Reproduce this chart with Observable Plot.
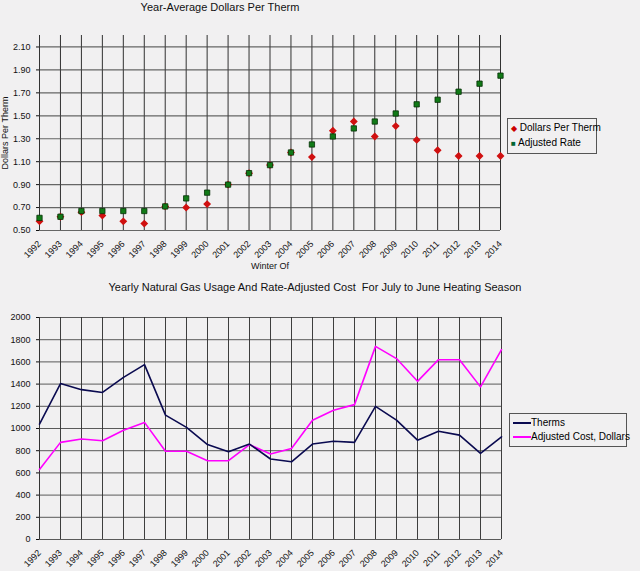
<!DOCTYPE html>
<html><head><meta charset="utf-8">
<script src="https://cdn.jsdelivr.net/npm/d3@7"></script>
<script src="https://cdn.jsdelivr.net/npm/@observablehq/plot@0.6"></script>
<style>
body{margin:0;background:#f1f0f1;font-family:"Liberation Sans",Arial,sans-serif;}
#wrap{position:relative;width:640px;height:571px;overflow:hidden;}
.t{position:absolute;font-size:11px;color:#111;white-space:nowrap;}
.leg{position:absolute;border:1px solid #555;background:#f1f0f1;font-size:10px;padding:2px 3px;line-height:14px;white-space:nowrap;}
.ab{position:absolute;}
</style></head><body>
<div id="wrap">
<div class="t" style="left:0;width:440px;text-align:center;top:1px;">Year-Average Dollars Per Therm</div>
<div class="t" style="left:0;width:640px;text-align:center;top:281px;padding-right:10px;box-sizing:border-box">Yearly Natural Gas Usage And Rate-Adjusted Cost &nbsp;For July to June Heating Season</div>
<div class="ab" id="c1" style="left:0;top:0"></div>
<div class="ab" id="c2" style="left:0;top:280px"></div>
<div class="leg" style="left:507px;top:118px;width:82px;">
<div><span style="color:#c00;font-size:8px">&#9670;</span> Dollars Per Therm</div>
<div><span style="color:#063;font-size:8px">&#9632;</span> Adjusted Rate</div></div>
<div class="leg" style="left:509px;top:413px;width:110px;">
<div><span style="display:inline-block;width:18px;border-top:2px solid #0a0a50;vertical-align:middle"></span>Therms</div>
<div><span style="display:inline-block;width:18px;border-top:2px solid #f0f;vertical-align:middle"></span>Adjusted Cost, Dollars</div></div>
</div>
<script>
const years=d3.range(1992,2015);
const dollarsPerTherm=[0.58,0.62,0.66,0.63,0.58,0.56,0.71,0.70,0.73,0.90,1.00,1.07,1.18,1.14,1.37,1.45,1.32,1.41,1.29,1.20,1.15,1.15,1.15];
const adjustedRate=[0.61,0.62,0.67,0.67,0.67,0.67,0.71,0.78,0.83,0.90,1.00,1.07,1.18,1.25,1.32,1.39,1.45,1.52,1.60,1.64,1.71,1.78,1.85];
const therms=[1040,1405,1350,1325,1460,1575,1120,1010,855,790,860,725,700,860,885,875,1200,1075,895,975,940,775,925];
const adjustedCost=[630,875,905,890,985,1055,795,795,710,710,855,770,820,1075,1165,1215,1740,1630,1425,1620,1620,1375,1710];
const rateRows=years.map((y,i)=>({y,d:dollarsPerTherm[i],a:adjustedRate[i]}));
const useRows=years.map((y,i)=>({y,t:therms[i],c:adjustedCost[i]}));
const style={background:"transparent",fontSize:"9px",fontFamily:"Liberation Sans, Arial, sans-serif",color:"#111"};
const c1=Plot.plot({width:640,height:280,marginLeft:39,marginRight:140,marginTop:35,marginBottom:50,style,
 x:{domain:[1992,2014],ticks:years,tickFormat:d=>String(d),tickRotate:-45,label:"Winter Of",labelAnchor:"center",labelArrow:"none",labelOffset:38,tickSize:0},
 y:{domain:[0.5,2.2],ticks:d3.range(0.5,2.11,0.2),tickFormat:d3.format(".2f"),label:"Dollars Per Therm",labelAnchor:"center",labelArrow:"none",labelOffset:38,tickSize:3},
 marks:[
  Plot.gridX(years,{stroke:"#111",strokeOpacity:0.85,strokeWidth:1}),
  Plot.gridY(d3.range(0.5,2.11,0.2),{stroke:"#444",strokeOpacity:0.8,strokeWidth:1.2}),
  Plot.ruleX([1992],{stroke:"#333"}),
  Plot.dot(rateRows,{x:"y",y:"d",symbol:"diamond2",r:2.6,fill:"#d01010",stroke:"#d01010"}),
  Plot.dot(rateRows,{x:"y",y:"a",symbol:"square",r:3,fill:"#117a17",stroke:"#063006",strokeWidth:0.8})
 ]});
document.getElementById("c1").append(c1);
const c2=Plot.plot({width:640,height:291,marginLeft:39,marginRight:139,marginTop:37,marginBottom:32,style,
 x:{domain:[1992,2014],ticks:years,tickFormat:d=>String(d),tickRotate:-45,label:null,tickSize:0},
 y:{domain:[0,2000],ticks:d3.range(0,2001,200),tickFormat:d=>String(d),label:null,tickSize:3},
 marks:[
  Plot.gridX(years,{stroke:"#111",strokeOpacity:0.8,strokeWidth:1}),
  Plot.gridY(d3.range(0,2001,200),{stroke:"#333",strokeOpacity:0.8,strokeWidth:1}),
  Plot.ruleX([1992],{stroke:"#333"}),
  Plot.lineY(useRows,{x:"y",y:"c",stroke:"#ff00ff",strokeWidth:1.6}),
  Plot.lineY(useRows,{x:"y",y:"t",stroke:"#0a0a50",strokeWidth:1.6})
 ]});
document.getElementById("c2").append(c2);
</script></body></html>
